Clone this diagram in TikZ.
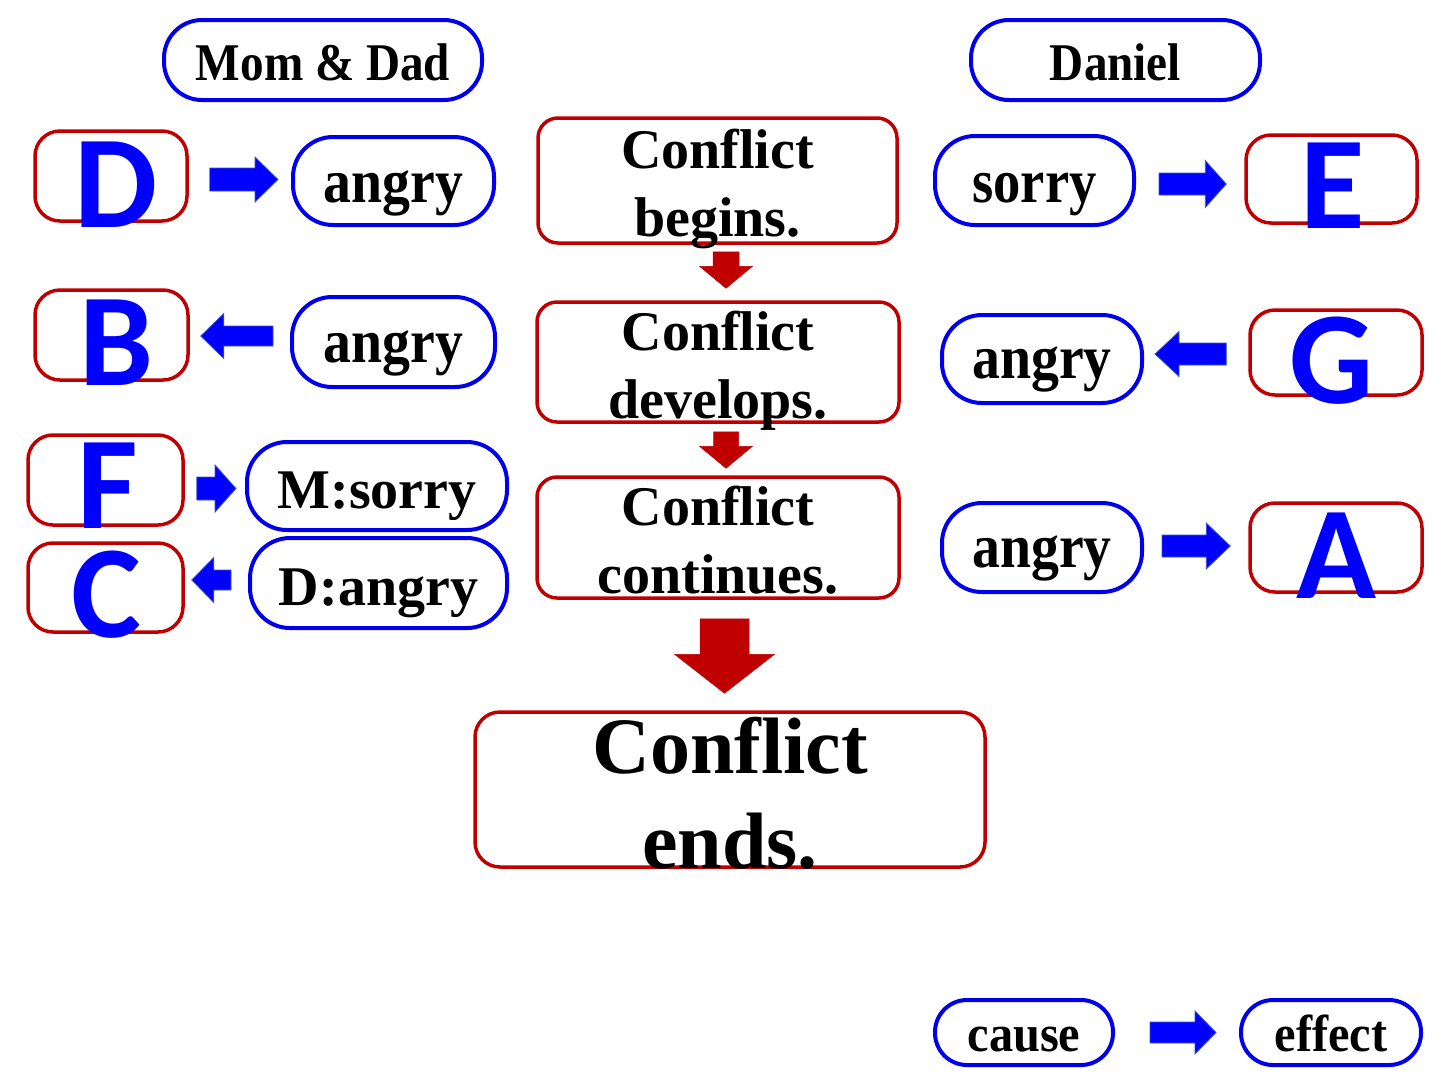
\documentclass[tikz,border=0pt]{standalone}
\usepackage{fontspec}
\usepackage{graphicx}
\setmainfont{Liberation Serif}
\newfontfamily\letterfont{Carlito}
\usetikzlibrary{calc}
\definecolor{boxred}{RGB}{192,0,0}
\definecolor{boxblue}{RGB}{0,0,235}
\definecolor{arrblue}{RGB}{0,0,255}
\definecolor{arredge}{RGB}{60,90,190}
\definecolor{arrred}{RGB}{192,0,0}
\newcommand\atbase[2]{\smash{\raisebox{-#1}{#2}}}
\newcommand\hsc[2]{\scalebox{#1}[1]{#2}}
\newcommand\twolines[2]{\begin{tabular}[t]{@{}c@{}}#1\\#2\end{tabular}}
% #1 tail, #2 tip, #3 shaft half width, #4 head half width, #5 head length, #6 style
\newcommand\blockarrow[6]{%
  \path ($(#2)!#5!(#1)$) coordinate (baq);
  \filldraw[#6] ($(#1)!#3!90:(#2)$) -- ($(baq)!#3!90:(#2)$) -- ($(baq)!#4!90:(#2)$) -- (#2)
     -- ($(baq)!#4!-90:(#2)$) -- ($(baq)!#3!-90:(#2)$) -- ($(#1)!#3!-90:(#2)$) -- cycle;}
\tikzset{
  redbox/.style={draw=boxred, line width=3.5pt, rounded corners=20pt, inner sep=0pt},
  bluebox/.style={draw=boxblue, line width=4pt, rounded corners=40pt, inner sep=0pt},
  letterbox/.style={redbox, rounded corners=25pt, text=arrblue,
    font=\fontsize{132}{132}\selectfont\letterfont\bfseries},
  headfont/.style={font=\fontsize{53}{60}\selectfont\bfseries},
  wordfont/.style={font=\fontsize{62}{70}\selectfont\bfseries},
  pairfont/.style={font=\fontsize{56}{64}\selectfont\bfseries},
  stagefont/.style={font=\fontsize{56}{68}\selectfont\bfseries},
  bigfont/.style={font=\fontsize{80}{95}\selectfont\bfseries},
  keyfont/.style={font=\fontsize{52}{60}\selectfont\bfseries},
  bluearrow/.style={fill=arrblue, draw=arredge, line width=0.8pt},
  redarrow/.style={fill=arrred, draw=arrred, line width=0.5pt},
}
\begin{document}
\begin{tikzpicture}[x=1pt,y=-1pt]
\useasboundingbox[fill=white] (0,0) rectangle (1440,1080);

% headers
\node[bluebox, rounded corners=38pt, minimum width=318pt, minimum height=80pt, headfont] (md) at (323,60)
  {\atbase{20pt}{\hsc{0.89}{Mom \& Dad}}};
\node[bluebox, rounded corners=38pt, minimum width=289pt, minimum height=80pt, headfont] (dan) at (1115.5,60)
  {\atbase{20pt}{\hsc{0.89}{Daniel}}};

% row 1
\node[letterbox, minimum width=152pt, minimum height=90pt] (D) at (111,176) {\atbase{51pt}{\hspace*{10pt}D}};
\node[bluebox, minimum width=201pt, minimum height=88pt, wordfont] (ang1) at (393.5,181) {\atbase{21pt}{\hsc{0.9}{angry}}};
\node[redbox, minimum width=359pt, minimum height=125pt, stagefont] (c1) at (717.5,180.5)
  {\atbase{-12.5pt}{\twolines{Conflict}{begins.}}};
\node[bluebox, minimum width=199pt, minimum height=89pt, wordfont] (sor) at (1034.5,180.5) {\atbase{21.5pt}{\hsc{0.88}{sorry}}};
\node[letterbox, minimum width=171pt, minimum height=88pt] (E) at (1331.5,179) {\atbase{49pt}{\hspace*{3pt}E}};

% row 2
\node[letterbox, minimum width=153pt, minimum height=90pt] (B) at (111.5,335) {\atbase{50pt}{\hspace*{10pt}B}};
\node[bluebox, minimum width=203pt, minimum height=90pt, wordfont] (ang2) at (393.5,342) {\atbase{20pt}{\hsc{0.9}{angry}}};
\node[redbox, minimum width=362pt, minimum height=120pt, stagefont] (c2) at (718,362)
  {\atbase{-12pt}{\twolines{Conflict}{develops.}}};
\node[bluebox, minimum width=200pt, minimum height=88pt, wordfont] (ang3) at (1042,359) {\atbase{19pt}{\hsc{0.9}{angry}}};
\node[letterbox, minimum width=172pt, minimum height=85pt] (G) at (1336,352.5) {\atbase{50.5pt}{G\hspace*{8pt}}};

% row 3
\node[letterbox, minimum width=155pt, minimum height=90pt] (F) at (105.5,480) {\atbase{48pt}{\hspace*{4pt}F}};
\node[bluebox, minimum width=260pt, minimum height=88pt, pairfont] (ms) at (377,486) {\atbase{22pt}{M:sorry}};
\node[redbox, minimum width=362pt, minimum height=121pt, stagefont] (c3) at (718,537.5)
  {\atbase{-12.5pt}{\twolines{Conflict}{continues.}}};
\node[bluebox, minimum width=200pt, minimum height=89pt, wordfont] (ang4) at (1042,547.5) {\atbase{19.5pt}{\hsc{0.9}{angry}}};
\node[letterbox, minimum width=172pt, minimum height=89pt] (A) at (1336,547.5) {\atbase{50.5pt}{A}};

\node[letterbox, minimum width=155pt, minimum height=89pt] (C) at (105.5,587.5) {\atbase{49.5pt}{\hspace*{2pt}C}};
\node[bluebox, minimum width=257pt, minimum height=90pt, pairfont] (da) at (378.5,583) {\atbase{22pt}{D:angry}};

% end
\node[redbox, rounded corners=25pt, minimum width=510pt, minimum height=155pt, bigfont] (c4) at (730,789.5)
  {\atbase{-16.5pt}{\twolines{Conflict}{ends.}}};

% key
\node[bluebox, rounded corners=32pt, minimum width=178pt, minimum height=65pt, keyfont] (cause) at (1024,1032.5)
  {\atbase{18.5pt}{\hsc{0.93}{cause}}};
\node[bluebox, rounded corners=32pt, minimum width=180pt, minimum height=65pt, keyfont] (effect) at (1331,1032.5)
  {\atbase{18.5pt}{\hsc{0.93}{effect}}};

% connector end points
\coordinate (a1t) at ($(D.east)+(21,3.5)$);
\coordinate (a1h) at ($(ang1.west)+(-13,-1.5)$);
\coordinate (aEt) at ($(sor.east)+(23,3.5)$);
\coordinate (aEh) at ($(E.west)+(-18,5)$);
\coordinate (a2t) at ($(ang2.west)+(-17,-6)$);
\coordinate (a2h) at ($(B.east)+(11,1)$);
\coordinate (aGt) at ($(G.west)+(-22,1.5)$);
\coordinate (aGh) at ($(ang3.east)+(11,-5)$);
\coordinate (aFt) at ($(F.east)+(12,8.5)$);
\coordinate (aFh) at ($(ms.west)+(-9,2.5)$);
\coordinate (aCt) at ($(da.west)+(-17,-3)$);
\coordinate (aCh) at ($(C.east)+(7,-7.5)$);
\coordinate (aAt) at ($(ang4.east)+(18,-1.5)$);
\coordinate (aAh) at ($(A.west)+(-18,-1.5)$);
\coordinate (kt) at ($(cause.east)+(35,0)$);
\coordinate (kh) at ($(effect.west)+(-23,0)$);
\coordinate (d1t) at ($(c1.south)+(8.5,7)$);
\coordinate (d1h) at ($(c2.north)+(8,-12)$);
\coordinate (d2t) at ($(c2.south)+(8,8)$);
\coordinate (d2h) at ($(c3.north)+(8,-7)$);
\coordinate (d3t) at ($(c3.south)+(6.5,19)$);
\coordinate (d3h) at ($(c4.north)+(-5.5,-17)$);

% blue block arrows
\blockarrow{a1t}{a1h}{11.5pt}{22.5pt}{23pt}{bluearrow}
\blockarrow{aEt}{aEh}{11pt}{23.5pt}{21pt}{bluearrow}
\blockarrow{a2t}{a2h}{10pt}{22.5pt}{23pt}{bluearrow}
\blockarrow{aGt}{aGh}{11pt}{22.5pt}{24pt}{bluearrow}
\blockarrow{aFt}{aFh}{11.5pt}{23.5pt}{21pt}{bluearrow}
\blockarrow{aCt}{aCh}{10pt}{22.5pt}{22pt}{bluearrow}
\blockarrow{aAt}{aAh}{11pt}{23pt}{24pt}{bluearrow}
\blockarrow{kt}{kh}{10.5pt}{21.5pt}{21pt}{bluearrow}

% red block arrows
\blockarrow{d1t}{d1h}{13pt}{26.5pt}{22pt}{redarrow}
\blockarrow{d2t}{d2h}{12.5pt}{26.5pt}{22pt}{redarrow}
\blockarrow{d3t}{d3h}{24.5pt}{50pt}{39pt}{redarrow}
\end{tikzpicture}
\end{document}
